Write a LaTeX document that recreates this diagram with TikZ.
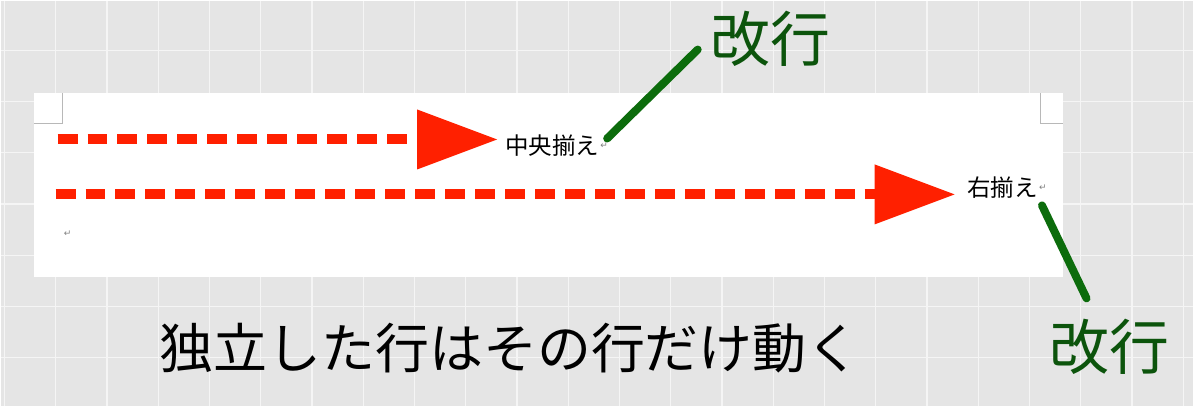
\documentclass[tikz,border=0pt]{standalone}
\usepackage{fontspec}
\setmainfont{Noto Sans CJK JP}
\newfontfamily\marcafont{DejaVu Sans}
\usetikzlibrary{arrows.meta}
\definecolor{fondo}{gray}{0.90}
\definecolor{rejilla}{gray}{0.96}
\definecolor{esquina}{gray}{0.72}
\definecolor{gris}{gray}{0.50}
\definecolor{rojo}{RGB}{255,32,0}
\definecolor{verde}{RGB}{12,108,12}
\definecolor{verdeosc}{RGB}{12,84,12}
\begin{document}
\begin{tikzpicture}[x=1pt,y=-1pt,
    flecha/.style={rojo, line width=10pt, dash pattern=on 20pt off 10pt,
      -{Triangle[length=80pt,width=60pt,line width=0pt]}},
    guia/.style={verde, line width=8pt, line cap=round},
    etiqueta/.style={verdeosc, inner sep=0pt, font=\fontsize{60}{60}\selectfont},
    texto/.style={inner sep=0pt, font=\fontsize{23.5}{23.5}\selectfont},
    marca/.style={gris, inner sep=0pt, font=\marcafont\fontsize{9}{9}\selectfont}]
    % fondo con rejilla
    \fill[fondo] (0,0) rectangle (1194,406);
    \foreach \i in {0,...,23}
        \draw[rejilla, line width=1.2pt] (4+51.3*\i,0) -- (4+51.3*\i,406);
    \foreach \j in {0,...,6}
        \draw[rejilla, line width=1.2pt] (0,50+51.2*\j) -- (1194,50+51.2*\j);
    % hoja
    \fill[white] (33,92) rectangle (1063,277);
    \draw[esquina, line width=0.8pt] (33,123) -- (62,123) -- (62,92);
    \draw[esquina, line width=0.8pt] (1063,123) -- (1041,123) -- (1041,92);
    % textos
    \node[texto] (c1) at (552,145) {中央揃え};
    \node[marca, anchor=west] (m1) at ([xshift=1pt]c1.east) {↵};
    \node[texto] (c2) at (1003,187) {右揃え};
    \node[marca, anchor=west] (m2) at ([xshift=1pt]c2.east) {↵};
    \node[marca] (m0) at (67,233) {↵};
    \node[etiqueta] (k1) at (771,38) {改行};
    \node[etiqueta] (k2) at (1110,347) {改行};
    \node[inner sep=0pt, font=\fontsize{54}{54}\selectfont] (lema) at (510,348) {独立した行はその行だけ動く};
    % flechas
    \coordinate (s1) at (57,139);
    \coordinate (t1) at (497,139);
    \coordinate (s2) at (55,194);
    \coordinate (t2) at (955,194);
    \draw[flecha] (s1) -- (t1);
    \draw[flecha] (s2) -- (t2);
    \draw[guia] ([shift={(3,-7)}]m1.center) -- ([shift={(-13,11)}]k1.west);
    \draw[guia] ([shift={(-1,18)}]m2.center) -- ([shift={(-23,-21)}]k2.north);
\end{tikzpicture}
\end{document}
